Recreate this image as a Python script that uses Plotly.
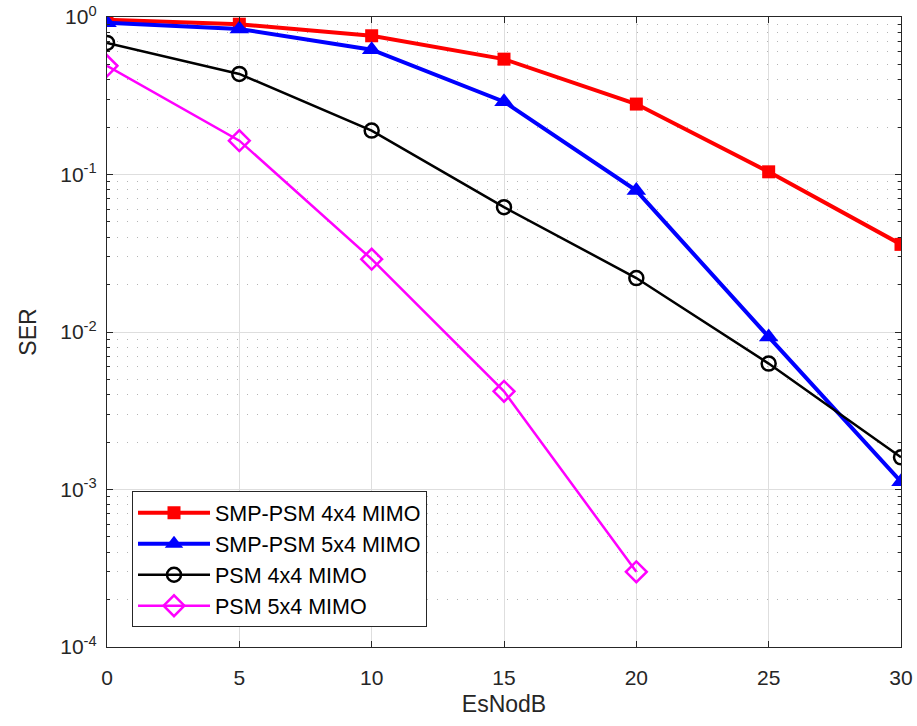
import plotly.graph_objects as go

esno = [0, 5, 10, 15, 20, 25, 30]
smp_psm_4x4 = [0.96, 0.90, 0.76, 0.54, 0.28, 0.104, 0.036]
smp_psm_5x4 = [0.92, 0.84, 0.62, 0.29, 0.079, 0.0093, 0.00112]
psm_4x4 = [0.685, 0.435, 0.19, 0.062, 0.022, 0.0063, 0.0016]
esno_psm5 = [0, 5, 10, 15, 20]
psm_5x4 = [0.49, 0.164, 0.029, 0.0042, 0.0003]

ytick_vals = [1e-4, 1e-3, 1e-2, 1e-1, 1]
ytick_text = ["10<sup>-4</sup>", "10<sup>-3</sup>", "10<sup>-2</sup>", "10<sup>-1</sup>", "10<sup>0</sup>"]
minor_vals = [m * 10 ** e for e in range(-4, 0) for m in range(2, 10)]
xtick_vals = [0, 5, 10, 15, 20, 25, 30]

fig = go.Figure()
fig.add_trace(go.Scatter(x=esno, y=smp_psm_4x4, name="SMP-PSM 4x4 MIMO", mode="lines+markers",
                         line=dict(color="#ff0000", width=4),
                         marker=dict(symbol="square", size=13, color="#ff0000")))
fig.add_trace(go.Scatter(x=esno, y=smp_psm_5x4, name="SMP-PSM 5x4 MIMO", mode="lines+markers",
                         line=dict(color="#0000ff", width=4),
                         marker=dict(symbol="triangle-up", size=17, color="#0000ff")))
fig.add_trace(go.Scatter(x=esno, y=psm_4x4, name="PSM 4x4 MIMO", mode="lines+markers",
                         line=dict(color="#000000", width=2.5),
                         marker=dict(symbol="circle-open", size=14, color="#000000", line=dict(width=2.5))))
fig.add_trace(go.Scatter(x=esno_psm5, y=psm_5x4, name="PSM 5x4 MIMO", mode="lines+markers",
                         line=dict(color="#ff00ff", width=2.5),
                         marker=dict(symbol="diamond-open", size=16, color="#ff00ff", line=dict(width=2.5))))

fig.update_layout(
    width=917, height=726,
    margin=dict(l=107, r=16, t=17, b=79, autoexpand=False),
    paper_bgcolor="white", plot_bgcolor="white",
    font=dict(family="Liberation Sans, Arial, sans-serif", color="#262626", size=21),
    showlegend=True,
    legend=dict(x=0.0315, y=0.247, xanchor="left", yanchor="top",
                bgcolor="white", bordercolor="#262626", borderwidth=1,
                font=dict(size=21.5, color="#000000"), itemwidth=72,
                tracegroupgap=0),
    xaxis=dict(range=[0, 30], tickvals=xtick_vals, ticks="inside", ticklen=6,
               tickcolor="#262626", showline=True, linecolor="#262626", linewidth=1.3,
               mirror="ticks", showgrid=True, gridcolor="#dedede", gridwidth=1,
               zeroline=False, tickfont=dict(size=21), ticklabelstandoff=12,
               automargin=False,
               title=dict(text="EsNodB", font=dict(size=23), standoff=7)),
    yaxis=dict(type="log", range=[-4, 0], tickvals=ytick_vals, ticktext=ytick_text,
               ticks="inside", ticklen=6, tickcolor="#262626", showline=True,
               linecolor="#262626", linewidth=1.3, mirror="ticks", showgrid=True,
               gridcolor="#dedede", gridwidth=1, zeroline=False, tickfont=dict(size=21),
               ticklabelstandoff=5, automargin=False,
               title=dict(text="SER", font=dict(size=23), standoff=17),
               minor=dict(tickvals=minor_vals, ticks="inside", ticklen=3, tickcolor="#262626",
                          showgrid=True, gridcolor="#b4b4b4", griddash="1px,9px", gridwidth=1)),
)

fig.write_html("out.html")
